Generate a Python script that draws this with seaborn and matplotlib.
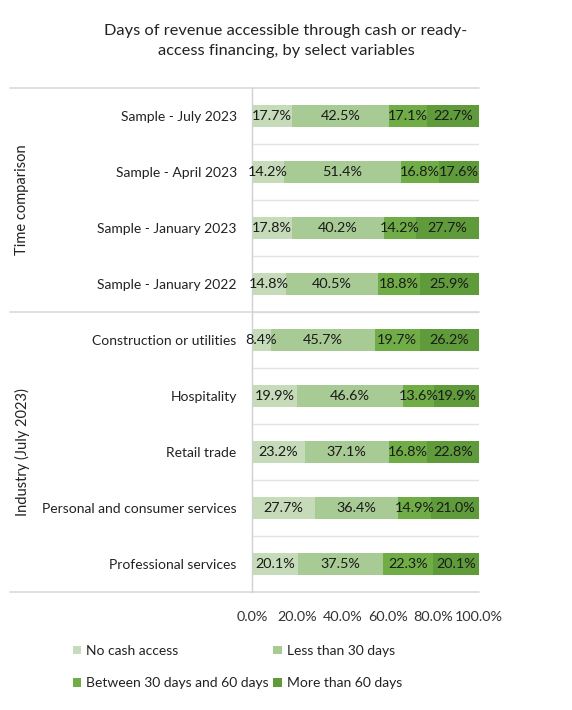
import numpy as np
import pandas as pd
import matplotlib
matplotlib.use('Agg')
import matplotlib.pyplot as plt
import matplotlib.transforms as mtransforms
from matplotlib.patches import Patch
import seaborn as sns

# data
categories = ['Sample - July 2023', 'Sample - April 2023', 'Sample - January 2023',
              'Sample - January 2022', 'Construction or utilities', 'Hospitality',
              'Retail trade', 'Personal and consumer services', 'Professional services']
series = ['No cash access', 'Less than 30 days', 'Between 30 days and 60 days', 'More than 60 days']
no_cash = [17.7, 14.2, 17.8, 14.8, 8.4, 19.9, 23.2, 27.7, 20.1]
less_30 = [42.5, 51.4, 40.2, 40.5, 45.7, 46.6, 37.1, 36.4, 37.5]
between_30_60 = [17.1, 16.8, 14.2, 18.8, 19.7, 13.6, 16.8, 14.9, 22.3]
more_60 = [22.7, 17.6, 27.7, 25.9, 26.2, 19.9, 22.8, 21.0, 20.1]
groups = ['Time comparison', 'Industry (July 2023)']
group_sizes = [4, 5]
xticks = [0, 20, 40, 60, 80, 100]
title = 'Days of revenue accessible through cash or ready-\naccess financing, by select variables'

colors = ['#c5dbb9', '#a8ca94', '#70ad47', '#5f9b3b']

sns.set_style('white')
plt.rcParams['font.family'] = ['Lato', 'DejaVu Sans']
FS = 10

df = pd.DataFrame({'category': categories, series[0]: no_cash, series[1]: less_30,
                   series[2]: between_30_60, series[3]: more_60})
cum = df[series].cumsum(axis=1)

fig = plt.figure(figsize=(5.72, 7.1), dpi=100)
ax = fig.add_axes([252 / 572, 1 - 592 / 710, 227 / 572, 504 / 710])

# stacked bars: draw cumulative totals from the widest down
for i in range(len(series) - 1, -1, -1):
    sns.barplot(x=cum[series[i]], y=df['category'], order=categories, color=colors[i],
                width=0.41, orient='h', saturation=1, ax=ax, linewidth=0)

# segment labels
for i, s in enumerate(series):
    left = cum[s] - df[s]
    for j, v in enumerate(df[s]):
        ax.text(left[j] + v / 2, j, '%.1f%%' % v, ha='center', va='center',
                fontsize=10.4, color='#1a1a1a')

ax.set_xlim(0, 100)
ax.set_ylim(len(categories) - 0.5, -0.5)
ax.set_xticks(xticks)
ax.set_xticklabels(['%.1f%%' % t for t in xticks], fontsize=10.4, color='#333333')
ax.tick_params(axis='x', length=0, pad=14)
ax.tick_params(axis='y', length=0, pad=11, labelsize=FS, labelcolor='#222222')
ax.set_xlabel('')
ax.set_ylabel('')
for sp in ['top', 'right', 'bottom']:
    ax.spines[sp].set_visible(False)
ax.spines['left'].set_color('#d0d0d0')
ax.spines['left'].set_linewidth(1)

# light row gridlines
for k in range(1, len(categories)):
    ax.axhline(k - 0.5, color='#e3e3e3', lw=1, zorder=0)

# group separators and group labels
trans = mtransforms.blended_transform_factory(ax.transAxes, ax.transData)
x_left = (10 - 252) / 227
bounds = np.concatenate([[0], np.cumsum(group_sizes)]) - 0.5
for b in bounds:
    ax.plot([x_left, 1], [b, b], color='#d9d9d9', lw=1.2, transform=trans, clip_on=False)
for g, lo, hi in zip(groups, bounds[:-1], bounds[1:]):
    ax.text((22 - 252) / 227, (lo + hi) / 2, g, rotation=90, ha='center', va='center',
            fontsize=FS + 0.5, color='#222222', transform=trans)

fig.text(0.5, 1 - 41 / 710, title, ha='center', va='center', fontsize=11.8,
         color='#222222', linespacing=1.5)

handles = [Patch(facecolor=c, edgecolor='none') for c in colors]
order = [0, 2, 1, 3]
fig.legend([handles[i] for i in order], [series[i] for i in order], ncol=2,
           loc='center left', bbox_to_anchor=(60 / 572, 1 - 667 / 710), frameon=False,
           fontsize=FS, handlelength=0.6, handleheight=0.6, handletextpad=0.4,
           columnspacing=0.3, labelspacing=1.45, labelcolor='#222222')

fig.savefig('out.png', dpi=100)
